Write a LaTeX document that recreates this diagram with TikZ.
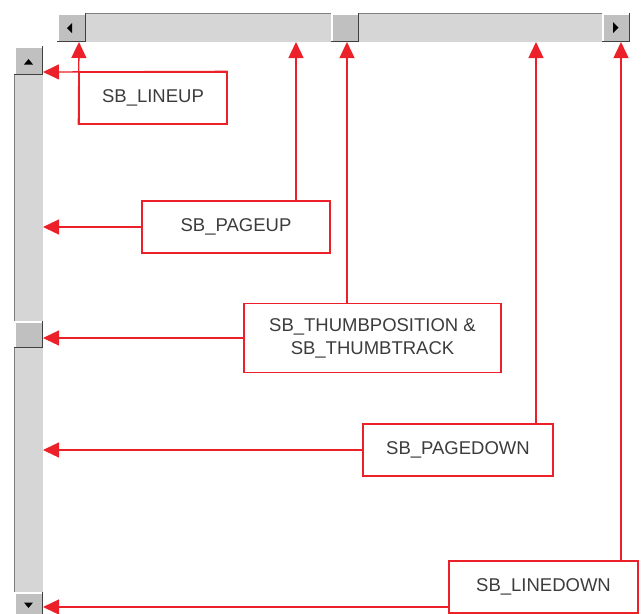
\documentclass[tikz,border=0pt]{standalone}
\usepackage{fontspec}
\setmainfont{Liberation Sans}
\usetikzlibrary{arrows.meta}
\definecolor{msgred}{RGB}{236,32,40}
\definecolor{trackgray}{RGB}{214,214,214}
\definecolor{btngray}{RGB}{192,192,192}
\definecolor{btndark}{RGB}{64,64,64}
\definecolor{txtgray}{RGB}{60,60,60}

\begin{document}
\begin{tikzpicture}[x=1pt, y=-1pt,
  box/.style={draw=msgred, line width=1.3pt, fill=white, inner sep=0pt,
    align=center, text=txtgray, font=\fontsize{18.5}{23}\selectfont},
  arr/.style={-{Triangle[length=16pt,width=15pt]}, draw=msgred, line width=1.3pt}
]
  \clip (0,0) rectangle (641,614);

  % scroll bars
  \fill[trackgray] (57,13) rectangle (630,42);
  \draw[gray] (57,13.5) -- (630,13.5);
  \fill[trackgray] (14,46) rectangle (43,614);
  \draw[gray] (14.5,46) -- (14.5,614);
  \foreach \xa/\ya/\xb/\yb in {57/13/86/42, 602/13/630/42, 331/13/359/42,
      14/46/43/75, 14/321/43/348, 14/592/43/616} {
    \fill[btngray] (\xa,\ya) rectangle (\xb,\yb);
    \draw[white, line width=1.5pt] (\xa+1,\yb-1) -- (\xa+1,\ya+1) -- (\xb-1,\ya+1);
    \draw[btndark, line width=1.5pt] (\xa,\yb-0.75) -- (\xb-0.75,\yb-0.75) -- (\xb-0.75,\ya);
  }
  \fill (67,28) -- (72,23) -- (72,33) -- cycle;
  \fill (618.5,27.5) -- (613,22) -- (613,33) -- cycle;
  \fill (28.5,59) -- (24,64.5) -- (33,64.5) -- cycle;
  \fill (28.5,608) -- (24,602.5) -- (33,602.5) -- cycle;

  \coordinate (vlnup) at (43,72);
  \coordinate (vpgup) at (43,227);
  \coordinate (vthumb) at (43,338);
  \coordinate (vpgdn) at (43,450);
  \coordinate (vlndn) at (43,607);
  \coordinate (hlnup) at (79,42);
  \coordinate (hpgup) at (296,42);
  \coordinate (hthumb) at (347,42);
  \coordinate (hpgdn) at (536,42);
  \coordinate (hlndn) at (621,42);

  \node[box, minimum width=148pt, minimum height=52pt] (lineup) at (153,98) {SB\_LINEUP};
  \node[box, minimum width=188pt, minimum height=52pt] (pageup) at (236,227) {SB\_PAGEUP};
  \node[box, minimum width=257pt, minimum height=69pt] (thumb) at (372.5,338)
    {SB\_THUMBPOSITION \&\\SB\_THUMBTRACK};
  \node[box, minimum width=190pt, minimum height=52pt] (pagedown) at (458,450) {SB\_PAGEDOWN};
  \node[box, minimum width=189pt, minimum height=52pt] (linedown) at (543.5,587) {SB\_LINEDOWN};

  \draw[arr] (lineup.north east) -- (vlnup);
  \draw[arr] (lineup.south west) -- (hlnup);
  \draw[arr] (pageup.west) -- (vpgup);
  \draw[arr] (pageup.north -| hpgup) -- (hpgup);
  \draw[arr] (thumb.west) -- (vthumb);
  \draw[arr] (thumb.north -| hthumb) -- (hthumb);
  \draw[arr] (pagedown.west) -- (vpgdn);
  \draw[arr] (pagedown.north -| hpgdn) -- (hpgdn);
  \draw[arr] (linedown.west |- vlndn) -- (vlndn);
  \draw[arr] (linedown.north -| hlndn) -- (hlndn);
\end{tikzpicture}
\end{document}
